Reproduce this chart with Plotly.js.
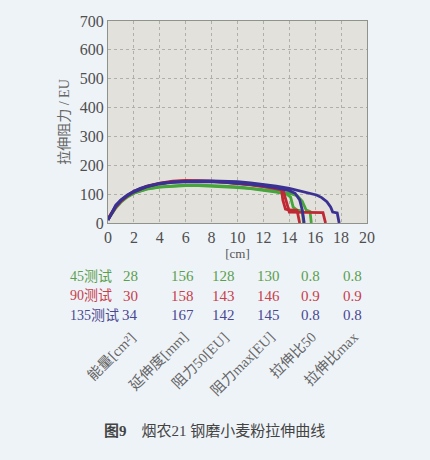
<!DOCTYPE html>
<html>
<head>
<meta charset="utf-8">
<script src="https://cdn.plot.ly/plotly-3.0.1.min.js"></script>
<style>
html,body{margin:0;padding:0;background:#eef3f8;}
#chart{width:430px;height:460px;}
</style>
</head>
<body>
<div id="chart"></div>
<script>
// ---- data ----
const green1X = [0,0.3,0.6,1,1.5,2,2.5,3,4,5,6,7,8,9,10,11,12,13,13.8,14.1,14.3,14.6,15.0,15.1];
const green1Y = [12,32,52,72,90,103,111,117,124,128,130,130,128,126,123,119,114,107,100,90,55,45,42,0];
const green2X = [0,0.3,0.6,1,1.5,2,2.5,3,4,5,6,7,8,9,10,11,12,13,14,14.6,15.0,15.3,15.6,15.7];
const green2Y = [14,35,55,74,92,104,112,118,125,129,131,131,130,128,125,121,116,110,103,95,75,45,40,0];
const red1X = [0,0.3,0.6,1,1.5,2,2.5,3,4,5,6,7,8,9,10,11,12,13,13.4,13.5,13.7,14.0,14.6,14.8];
const red1Y = [15,38,58,78,96,110,120,128,138,145,148,147,145,142,138,133,127,120,115,80,48,45,44,0];
const red2X = [0,0.3,0.6,1,1.5,2,2.5,3,4,5,6,7,8,9,10,11,12,13,13.5,13.8,14.0,16.6,16.8];
const red2Y = [13,35,55,76,94,108,118,126,136,143,146,146,144,141,137,132,126,120,117,70,38,36,0];
const blue1X = [0,0.3,0.6,1,1.5,2,2.5,3,4,5,6,7,8,9,10,11,12,13,14,14.45,14.8,15.0,15.15];
const blue1Y = [10,36,58,78,95,108,118,126,136,141,143,144,143,141,138,134,129,122,112,103,80,45,0];
const blue2X = [0,0.3,0.6,1,1.5,2,2.5,3,4,5,6,7,8,9,10,11,12,13,14,14.6,15.5,16.1,16.5,16.9,17.2,17.35,17.7,17.85];
const blue2Y = [10,38,62,80,97,110,120,127,137,142,145,146,146,145,143,139,134,128,120,114,104,97,88,74,55,38,35,0];

const xTicks = [0,2,4,6,8,10,12,14,16,18,20];
const yTicks = [0,100,200,300,400,500,600,700];

const rowLabels = ['45测试','90测试','135测试'];
const row45 = ['28','156','128','130','0.8','0.8'];
const row90 = ['30','158','143','146','0.9','0.9'];
const row135 = ['34','167','142','145','0.8','0.8'];
const colLabels = ['能量[cm²]','延伸度[mm]','阻力50[EU]','阻力max[EU]','拉伸比50','拉伸比max'];
const caption = '<b>图9</b>\u00a0\u00a0\u00a0\u00a0烟农21 钢磨小麦粉拉伸曲线';

// ---- styles / layout constants ----
const GREEN = '#47a53c', RED = '#c02834', BLUE = '#3a3192';
const TGREEN = '#5aa04c', TRED = '#c8404c', TBLUE = '#4a4890';
const SERIF = '"Liberation Serif","Noto Sans CJK SC",serif';
const plotL = 108, plotR = 367, plotT = 21, plotB = 223;
const px2x = p => (p - plotL) / (plotR - plotL);
const py2y = p => (plotB - p) / (plotB - plotT);
const colPx = [130, 182, 223, 268, 310, 352];
const rowPy = [276, 295.5, 315];

function line(x, y, c) {
  return {x: x, y: y, type: 'scatter', mode: 'lines', line: {color: c, width: 2.8}, hoverinfo: 'skip'};
}
const traces = [
  line(green1X, green1Y, GREEN), line(green2X, green2Y, GREEN),
  line(red1X, red1Y, RED), line(red2X, red2Y, RED),
  line(blue1X, blue1Y, BLUE), line(blue2X, blue2Y, BLUE)
];

const ann = [];
const rows = [row45, row90, row135];
const rowColors = [TGREEN, TRED, TBLUE];
rows.forEach((r, i) => {
  ann.push({xref: 'paper', yref: 'paper', x: px2x(68), y: py2y(rowPy[i]), xanchor: 'left', yanchor: 'middle',
    text: rowLabels[i], showarrow: false, font: {family: SERIF, size: 14, color: rowColors[i]}});
  r.forEach((v, j) => {
    ann.push({xref: 'paper', yref: 'paper', x: px2x(colPx[j]), y: py2y(rowPy[i]), xanchor: 'center', yanchor: 'middle',
      text: v, showarrow: false, font: {family: SERIF, size: 15, color: rowColors[i]}});
  });
});
colLabels.forEach((t, j) => {
  ann.push({xref: 'paper', yref: 'paper', x: px2x(colPx[j] + 12), y: py2y(326), xanchor: 'right', yanchor: 'top',
    text: t, textangle: -45, showarrow: false, font: {family: SERIF, size: 14.5, color: '#666'}});
});
ann.push({xref: 'paper', yref: 'paper', x: px2x(214), y: py2y(431), xanchor: 'center', yanchor: 'middle',
  text: caption, showarrow: false, font: {family: SERIF, size: 15, color: '#444'}});

const layout = {
  width: 430, height: 460,
  margin: {l: plotL, r: 430 - plotR, t: plotT, b: 460 - plotB},
  paper_bgcolor: '#eef3f8', plot_bgcolor: '#e2e1dc',
  showlegend: false,
  font: {family: SERIF, color: '#555'},
  xaxis: {range: [0, 20], tickvals: xTicks, ticktext: xTicks.map(String), ticks: '',
    showgrid: true, gridcolor: '#b0b0ab', griddash: 'dot', gridwidth: 1,
    showline: true, mirror: true, linecolor: '#8e948c', linewidth: 1, zeroline: false,
    tickfont: {family: SERIF, size: 16, color: '#4f4f4f'},
    title: {text: '[cm]', font: {family: SERIF, size: 13, color: '#555'}, standoff: 2}},
  yaxis: {range: [0, 700], tickvals: yTicks, ticktext: yTicks.map(String), ticks: '',
    showgrid: true, gridcolor: '#b0b0ab', griddash: 'dot', gridwidth: 1,
    showline: true, mirror: true, linecolor: '#8e948c', linewidth: 1, zeroline: false,
    tickfont: {family: SERIF, size: 16, color: '#4f4f4f'},
    title: {text: '拉伸阻力 / EU', font: {family: SERIF, size: 14, color: '#666'}, standoff: 6}},
  annotations: ann
};

Plotly.newPlot('chart', traces, layout, {displayModeBar: false, staticPlot: true});
</script>
</body>
</html>
